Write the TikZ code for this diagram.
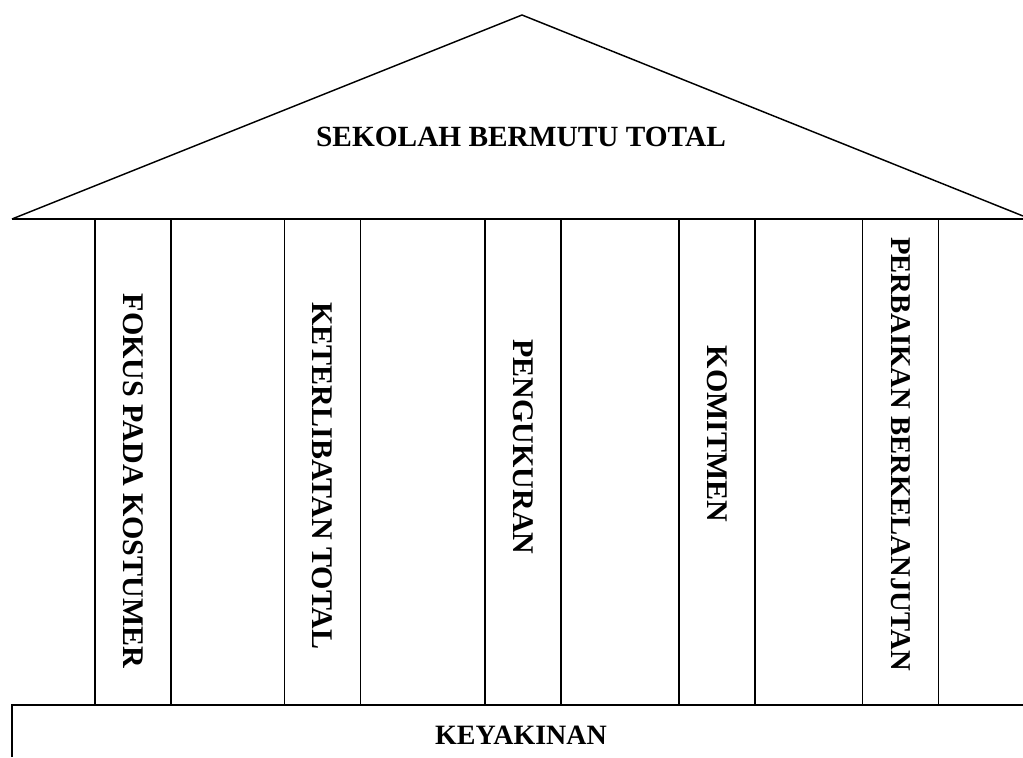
\documentclass[tikz,border=0pt]{standalone}
\usepackage{fontspec}
\setmainfont{Liberation Serif}
\tikzset{
  tiang/.style={draw, rectangle, line width=1.1pt, minimum width=57pt, minimum height=364.5pt},
  tulisantiang/.style={rotate=-90, font=\fontsize{22.5}{27}\selectfont\bfseries}
}
\begin{document}
\begin{tikzpicture}[x=0.75pt,y=-0.75pt]
\useasboundingbox (0,0) rectangle (1023,757);
% atap
\coordinate (kiri) at (12,219);
\coordinate (puncak) at (522,15);
\coordinate (kanan) at (1023,216);
\coordinate (kananbawah) at (1023,219);
\path[draw,line width=1.1pt] (kiri) -- (puncak) -- (kanan);
\path[draw,line width=1.1pt] (kiri) -- (kananbawah);
\node (judul) at (521,137) {\fontsize{22}{26}\selectfont\bfseries SEKOLAH BERMUTU TOTAL};
% tiang-tiang
\node[tiang] (t1) at (133,462) {};
\node[tiang] (t2) at (322.5,462) {};
\node[tiang] (t3) at (523,462) {};
\node[tiang] (t4) at (717,462) {};
\node[tiang] (t5) at (900.5,462) {};
\node[tulisantiang] (s1) at (133,481) {FOKUS PADA KOSTUMER};
\node[tulisantiang] (s2) at (322.5,476) {KETERLIBATAN TOTAL};
\node[tulisantiang] (s3) at (523,447) {PENGUKURAN};
\node[tulisantiang] (s4) at (717,434) {KOMITMEN};
\node[tulisantiang,font=\fontsize{21.5}{26}\selectfont\bfseries] (s5) at (900.5,454) {PERBAIKAN BERKELANJUTAN};
% dasar
\coordinate (dasarbawah) at (12,757);
\coordinate (dasarkiri) at (12,705);
\coordinate (dasarkanan) at (1023,705);
\path[draw,line width=1.1pt] (dasarbawah) -- (dasarkiri) -- (dasarkanan);
\node (dasar) at (521,735) {\fontsize{21}{25}\selectfont\bfseries KEYAKINAN};
\end{tikzpicture}
\end{document}
